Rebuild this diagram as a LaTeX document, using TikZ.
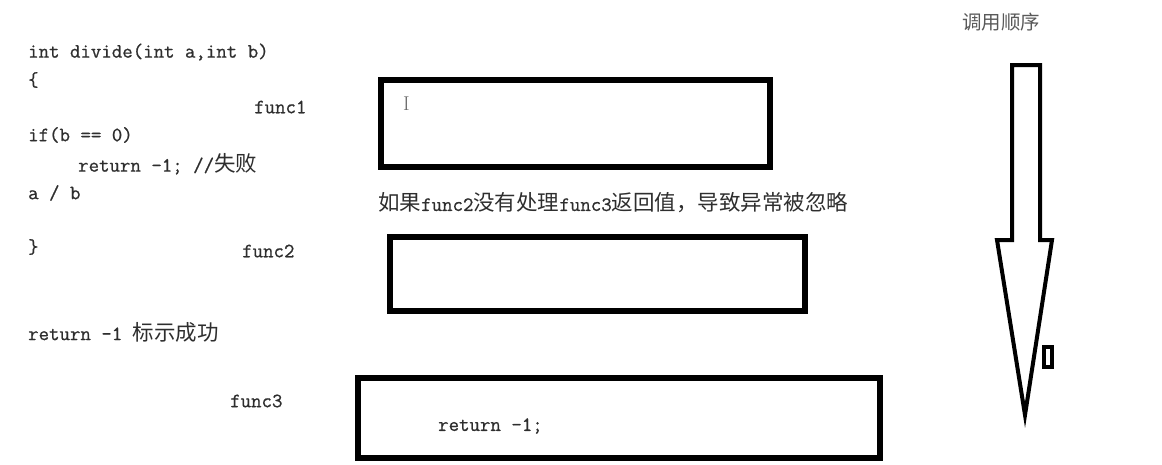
\documentclass[tikz,border=0pt]{standalone}
\usepackage{fontspec}
\setmonofont{Latin Modern Mono}[FakeBold=0.8]
\newfontfamily\cjkfont{Noto Sans CJK SC}
\newcommand{\zh}[1]{{\cjkfont\fontsize{21.5}{22}\selectfont #1}}
\usetikzlibrary{positioning}
\tikzset{
    x=1pt, y=-1pt,
    font=\ttfamily\fontsize{20.3}{22}\selectfont,
    code line/.style={anchor=west, inner sep=0pt, text=black!82},
    func label/.style={anchor=west, inner sep=0pt, text=black!82},
    func box/.style={draw, line width=5.5pt, inner sep=0pt},
    order arrow/.style={draw, line width=4pt, line join=miter}
}

\begin{document}
\begin{tikzpicture}
    \useasboundingbox (0,0) rectangle (1162,464);
    % the divide function
    \node[code line] (head) at (28,52) {int divide(int a,int b)};
    \node[code line] (open) at (28,80) {\{};
    \node[code line] (test) at (28,135) {if(b == 0)};
    \node[code line] (fail) at (78,164) {return -1; //\zh{失败}};
    \node[code line] (div) at (28,193) {a / b};
    \node[code line] (close) at (28,247) {\}};
    \node[code line] (ok) at (28,332) {return -1 \zh{标示成功}};
    % call frames
    \node[func label] (l1) at (254,107) {func1};
    \node[func label] (l2) at (242,251) {func2};
    \node[func label] (l3) at (230,401) {func3};
    \node[func box, minimum width=389pt, minimum height=87pt] (f1) at (575.5,123.5) {};
    \node[func box, minimum width=415pt, minimum height=74pt] (f2) at (597.5,274) {};
    \node[func box, line width=6pt, minimum width=521.5pt, minimum height=79.5pt] (f3) at (618.75,417.75) {};
    \node[code line] (ret) at (438,426) {return -1;};
    \node[code line] (note) at (378,203) {\zh{如果}func2\zh{没有处理}func3\zh{返回值，导致异常被忽略}};
    \node[inner sep=0pt, text=black!60, font=\rmfamily\fontsize{20}{20}\selectfont] (cursor) at (406.5,104) {I};
    % call order
    \node[inner sep=0pt, text=black!65, font=\cjkfont\fontsize{19.5}{20}\selectfont] (order) at (1001,22) {调用顺序};
    \draw[order arrow] (1012,65) -- (1040,65) -- (1040,240) -- (1052,240)
        -- (1025,415) -- (997,240) -- (1012,240) -- cycle;
    \draw[line width=4pt] (1044,347) rectangle (1052,367);
\end{tikzpicture}
\end{document}
